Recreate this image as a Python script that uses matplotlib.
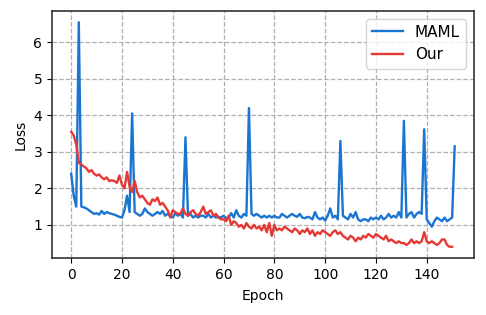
import matplotlib
matplotlib.use("Agg")
import matplotlib.pyplot as plt
import numpy as np

# loss values, one per epoch
maml_loss = [
    2.4, 1.8, 1.5, 6.55, 1.5, 1.48, 1.45, 1.4, 1.35, 1.3,
    1.32, 1.28, 1.38, 1.3, 1.35, 1.32, 1.3, 1.28, 1.25, 1.22,
    1.2, 1.4, 1.8, 1.35, 4.05, 1.35, 1.3, 1.25, 1.3, 1.45,
    1.35, 1.3, 1.25, 1.3, 1.35, 1.3, 1.38, 1.25, 1.3, 1.25,
    1.2, 1.32, 1.25, 1.3, 1.2, 3.4, 1.25, 1.3, 1.2, 1.25,
    1.2, 1.25, 1.25, 1.2, 1.3, 1.2, 1.25, 1.2, 1.22, 1.2,
    1.25, 1.18, 1.2, 1.32, 1.2, 1.4, 1.25, 1.2, 1.3, 1.25,
    4.2, 1.3, 1.25, 1.3, 1.25, 1.2, 1.25, 1.2, 1.25, 1.2,
    1.25, 1.2, 1.2, 1.3, 1.25, 1.2, 1.25, 1.3, 1.25, 1.22,
    1.3, 1.2, 1.18, 1.22, 1.2, 1.15, 1.35, 1.2, 1.15, 1.2,
    1.12, 1.25, 1.45, 1.2, 1.25, 1.15, 3.3, 1.25, 1.2, 1.15,
    1.3, 1.2, 1.35, 1.15, 1.1, 1.15, 1.15, 1.1, 1.2, 1.15,
    1.2, 1.15, 1.25, 1.15, 1.2, 1.3, 1.2, 1.25, 1.2, 1.35,
    1.2, 3.85, 1.2, 1.3, 1.35, 1.2, 1.3, 1.35, 1.3, 3.62,
    1.15, 1.05, 0.95, 1.1, 1.2, 1.15, 1.1, 1.2, 1.1, 1.15,
    1.2, 3.15,
]
our_loss = [
    3.55, 3.45, 3.2, 2.7, 2.65, 2.6, 2.55, 2.45, 2.5, 2.4,
    2.35, 2.38, 2.3, 2.25, 2.3, 2.2, 2.22, 2.2, 2.15, 2.35,
    2.1, 2.0, 2.45, 2.05, 1.9, 2.2, 1.9, 1.75, 1.8, 1.7,
    1.6, 1.55, 1.7, 1.65, 1.75, 1.55, 1.6, 1.5, 1.4, 1.2,
    1.4, 1.35, 1.3, 1.3, 1.45, 1.3, 1.25, 1.35, 1.4, 1.3,
    1.25, 1.35, 1.5, 1.3, 1.35, 1.4, 1.25, 1.3, 1.2, 1.15,
    1.15, 1.1, 1.25, 1.0, 1.1, 1.05, 0.95, 1.0, 0.9, 1.05,
    0.95, 0.9, 1.0, 0.9, 0.95, 0.85, 1.0, 0.8, 1.05, 0.7,
    1.0, 0.85, 0.9, 0.85, 0.95, 0.9, 0.85, 0.8, 0.9, 0.85,
    0.75, 0.85, 0.8, 0.9, 0.75, 0.85, 0.7, 0.8, 0.75, 0.85,
    0.8, 0.75, 0.7, 0.8, 0.85, 0.75, 0.8, 0.7, 0.65, 0.6,
    0.7, 0.65, 0.55, 0.65, 0.6, 0.7, 0.65, 0.75, 0.7, 0.65,
    0.75, 0.7, 0.65, 0.6, 0.7, 0.55, 0.6, 0.55, 0.5, 0.55,
    0.5, 0.5, 0.45, 0.5, 0.6, 0.5, 0.55, 0.5, 0.55, 0.8,
    0.55, 0.5, 0.55, 0.5, 0.45, 0.5, 0.6, 0.6, 0.45, 0.4,
    0.4,
]

fig = plt.figure(figsize=(4.86, 3.15), dpi=100)
ax = fig.add_axes([0.107, 0.181, 0.868, 0.784])

ax.plot(np.arange(len(maml_loss)), maml_loss, color="#1a75d2", lw=1.7, label="MAML")
ax.plot(np.arange(len(our_loss)), our_loss, color="#e53935", lw=1.7, label="Our")

ax.grid(True, linestyle="--", color="#b0b0b0", lw=0.9)
ax.set_axisbelow(True)
ax.set_xlabel("Epoch", labelpad=5)
ax.set_ylabel("Loss")
ax.set_xticks(range(0, 141, 20))
for s in ax.spines.values():
    s.set_color("#333333")
    s.set_linewidth(1.2)
ax.legend(loc="upper right", fontsize=11)

fig.savefig("out.png", dpi=100)
